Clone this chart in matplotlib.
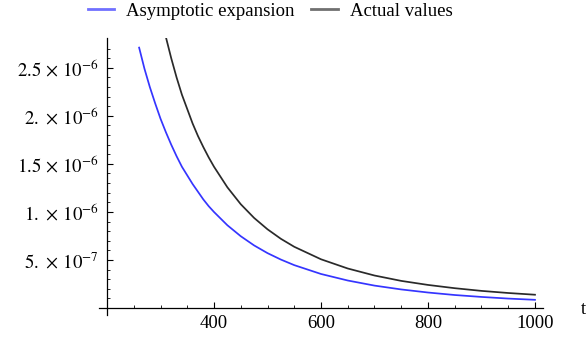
import matplotlib
matplotlib.use("Agg")
import matplotlib.pyplot as plt
from matplotlib.ticker import FixedLocator
from matplotlib.lines import Line2D

plt.rcParams['font.family'] = ['Liberation Serif', 'DejaVu Serif']
plt.rcParams['mathtext.fontset'] = 'stix'

# Asymptotic expansion (blue)
t_asym = [260, 270, 280, 290, 300, 310, 320, 330, 340, 350, 360, 370, 380,
          390, 400, 425, 450, 475, 500, 525, 550, 600, 650, 700, 750, 800,
          850, 900, 950, 1000]
y_asym = [2.71e-6, 2.49e-6, 2.30e-6, 2.13e-6, 1.97e-6, 1.83e-6, 1.70e-6,
          1.58e-6, 1.47e-6, 1.38e-6, 1.29e-6, 1.21e-6, 1.13e-6, 1.06e-6,
          9.99e-7, 8.61e-7, 7.47e-7, 6.51e-7, 5.71e-7, 5.04e-7, 4.46e-7,
          3.54e-7, 2.86e-7, 2.33e-7, 1.93e-7, 1.61e-7, 1.35e-7, 1.15e-7,
          9.8e-8, 8.5e-8]

# Actual values (black)
t_act = [300, 310, 320, 330, 340, 350, 360, 370, 380, 390, 400, 425, 450,
         475, 500, 525, 550, 600, 650, 700, 750, 800, 850, 900, 950, 1000]
y_act = [3.06e-6, 2.82e-6, 2.60e-6, 2.40e-6, 2.22e-6, 2.07e-6, 1.92e-6,
         1.79e-6, 1.675e-6, 1.568e-6, 1.47e-6, 1.256e-6, 1.08e-6, 9.37e-7,
         8.19e-7, 7.2e-7, 6.37e-7, 5.07e-7, 4.11e-7, 3.38e-7, 2.82e-7,
         2.40e-7, 2.06e-7, 1.78e-7, 1.56e-7, 1.38e-7]

x_major = [400, 600, 800, 1000]
x_major_labels = ['400', '600', '800', '1000']
y_major = [5e-7, 1e-6, 1.5e-6, 2e-6, 2.5e-6]
y_major_labels = [r'$5.\,\times\,10^{-7}$', r'$1.\,\times\,10^{-6}$',
                  r'$1.5\,\times\,10^{-6}$', r'$2.\,\times\,10^{-6}$',
                  r'$2.5\,\times\,10^{-6}$']
legend_labels = ['Asymptotic expansion', 'Actual values']

fig = plt.figure(figsize=(5.87, 3.41), dpi=100)
ax = fig.add_axes([99/587, 26/341, (543-99)/587, (315-38)/341])

ax.plot(t_asym, y_asym, color='#3535ff', lw=1.25)
ax.plot(t_act, y_act, color='#2a2a2a', lw=1.25)

ax.set_xlim(185, 1015)
ax.set_ylim(-7.3e-8, 2.81e-6)

for s in ['top', 'right']:
    ax.spines[s].set_visible(False)
ax.spines['left'].set_position(('data', 200))
ax.spines['bottom'].set_position(('data', 0))
ax.spines['left'].set_linewidth(0.9)
ax.spines['bottom'].set_linewidth(0.9)

ax.xaxis.set_major_locator(FixedLocator(x_major))
ax.set_xticklabels(x_major_labels)
ax.xaxis.set_minor_locator(FixedLocator([250, 300, 350, 450, 500, 550, 650, 700,
                                         750, 850, 900, 950]))
ax.yaxis.set_major_locator(FixedLocator(y_major))
ax.set_yticklabels(y_major_labels)
ax.yaxis.set_minor_locator(FixedLocator([1e-7, 2e-7, 3e-7, 4e-7, 6e-7, 7e-7, 8e-7,
                                         9e-7, 1.1e-6, 1.2e-6, 1.3e-6, 1.4e-6,
                                         1.6e-6, 1.7e-6, 1.8e-6, 1.9e-6, 2.1e-6,
                                         2.2e-6, 2.3e-6, 2.4e-6, 2.6e-6, 2.7e-6]))

ax.tick_params(axis='both', which='major', direction='in', length=4.5, width=0.8,
               labelsize=13.5)
ax.tick_params(axis='both', which='minor', direction='in', length=2.5, width=0.6)
ax.tick_params(axis='x', which='major', pad=5)
ax.tick_params(axis='y', which='major', pad=6)

fig.text(581/587, 1 - 309/341, 't', ha='left', va='center', fontsize=13.5)

handles = [Line2D([], [], color='#7070ff', lw=2),
           Line2D([], [], color='#707070', lw=2)]
fig.legend(handles, legend_labels, loc='center', ncol=2, frameon=False,
           bbox_to_anchor=(270/587, 1 - 11/341), fontsize=13.5,
           handlelength=1.4, handletextpad=0.65, columnspacing=0.9,
           borderaxespad=0, borderpad=0)

fig.savefig('out.png', dpi=100)
